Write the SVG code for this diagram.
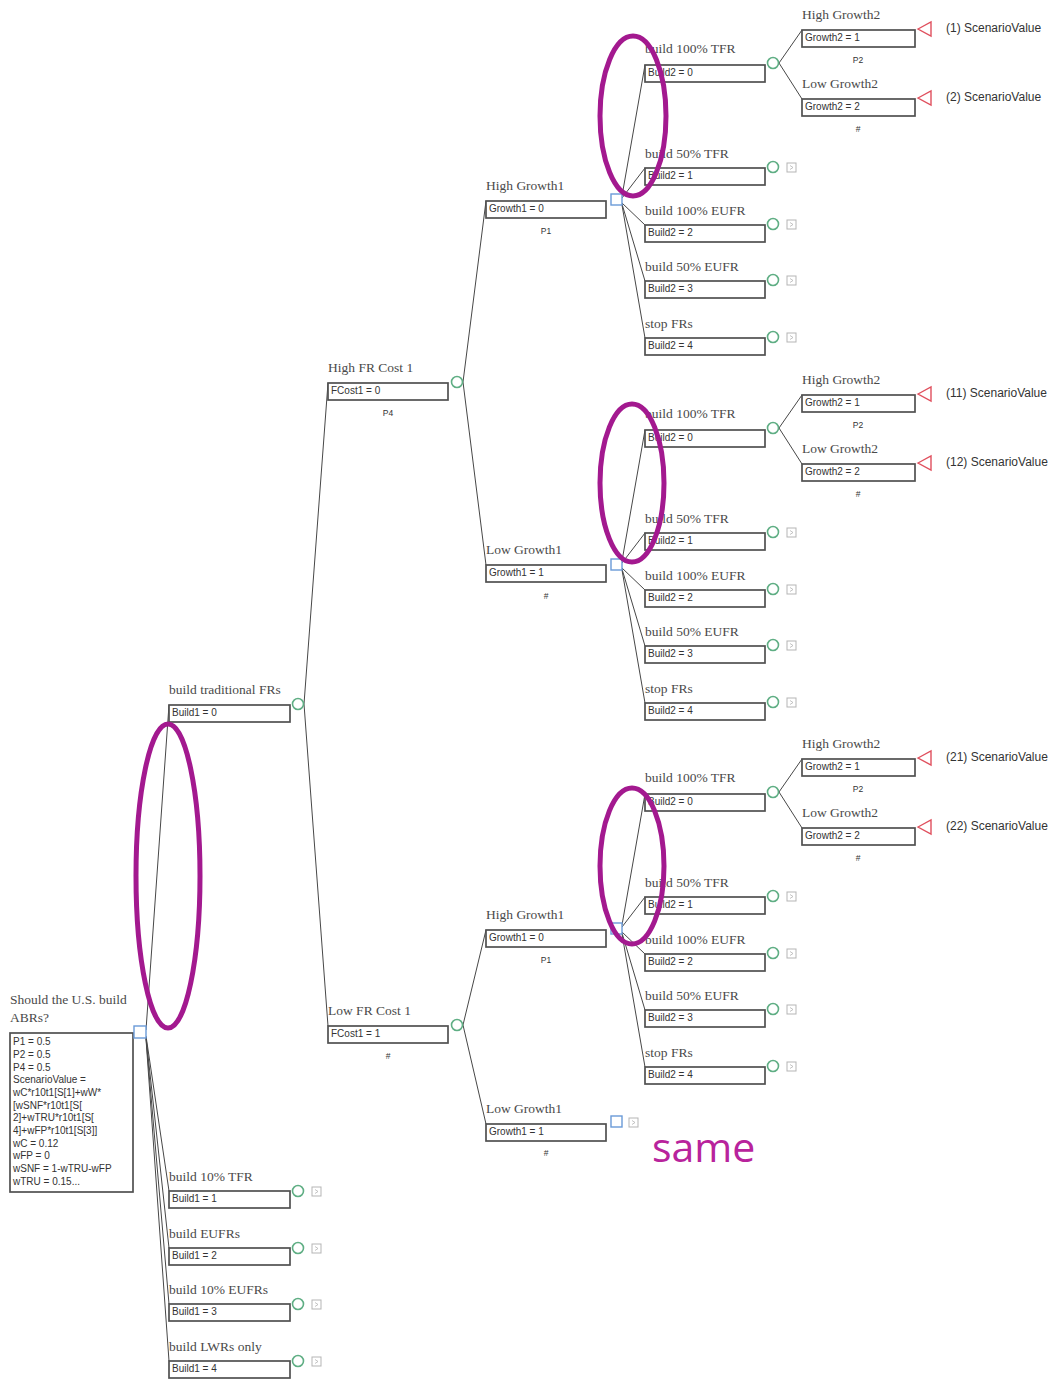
<svg xmlns="http://www.w3.org/2000/svg" width="1051" height="1380" viewBox="0 0 1051 1380">
  <style>
    .lbl { font-family: "Liberation Serif", serif; font-size: 13.5px; fill: #4a4a4a; }
    .val { font-family: "Liberation Sans", sans-serif; font-size: 10px; fill: #333; }
    .note { font-family: "Liberation Sans", sans-serif; font-size: 10px; fill: #333; }
    .prob { font-family: "Liberation Sans", sans-serif; font-size: 8.5px; fill: #333; text-anchor: middle; }
    .sv { font-family: "Liberation Sans", sans-serif; font-size: 12px; fill: #333; }
    .box { fill: #fff; stroke: #505050; stroke-width: 1.7; }
    .chance { fill: #fff; stroke: #5fae84; stroke-width: 1.6; }
    .dec { fill: #fff; stroke: #6a9ad8; stroke-width: 1.4; }
    .term { fill: #fff; stroke: #e0505e; stroke-width: 1.4; }
    .icon { fill: #fff; stroke: #b5b5b5; stroke-width: 1; }
    .icon-mark { fill: none; stroke: #b5b5b5; stroke-width: 0.8; }
    .edge { stroke: #474747; stroke-width: 1; fill: none; }
    .mark { fill: none; stroke: #a3198f; stroke-width: 5; }
    .same { font-family: "Open Sans", "Liberation Sans", sans-serif; font-size: 41px; fill: #b8239c; }
  </style>
  <defs>
    <!-- collapsed-subtree marker -->
    <g id="collapsed">
      <rect class="icon" x="0" y="0" width="9" height="9"/>
      <path class="icon-mark" d="M3 2.5 L6 4.5 L3 6.5"/>
    </g>
    <!-- terminal (payoff) node -->
    <polygon id="terminal" class="term" points="0,0 13,-7 13,7"/>
  </defs>

  <rect width="1051" height="1380" fill="#fff"/>

  <!-- branch lines -->
  <g id="connectors">
    <!-- root to first-stage choices -->
    <path class="edge" d="M146 1030 L169 705"/>
    <path class="edge" d="M146 1036 L169 1191"/>
    <path class="edge" d="M146 1037 L169 1248"/>
    <path class="edge" d="M146 1038 L169 1304"/>
    <path class="edge" d="M146 1039 L169 1361"/>
    <!-- fuel-cycle cost chance -->
    <path class="edge" d="M304 704 L328 383"/>
    <path class="edge" d="M304 704 L328 1026"/>
    <!-- first growth chance -->
    <path class="edge" d="M463 382 L486 201"/>
    <path class="edge" d="M463 382 L486 565"/>
    <path class="edge" d="M463 1025 L486 930"/>
    <path class="edge" d="M463 1025 L486 1124"/>
    <!-- second-stage decisions, group A -->
    <path class="edge" d="M622 196 L645 65"/>
    <path class="edge" d="M622 198 L645 168"/>
    <path class="edge" d="M622 203 L645 225"/>
    <path class="edge" d="M622 204 L645 281"/>
    <path class="edge" d="M622 205 L645 338"/>
    <!-- group B -->
    <path class="edge" d="M622 561 L645 430"/>
    <path class="edge" d="M622 563 L645 533"/>
    <path class="edge" d="M622 568 L645 590"/>
    <path class="edge" d="M622 569 L645 646"/>
    <path class="edge" d="M622 570 L645 703"/>
    <!-- group C -->
    <path class="edge" d="M622 925 L645 794"/>
    <path class="edge" d="M622 927 L645 897"/>
    <path class="edge" d="M622 932 L645 954"/>
    <path class="edge" d="M622 933 L645 1010"/>
    <path class="edge" d="M622 934 L645 1067"/>
    <!-- second growth chance -->
    <path class="edge" d="M779 63 L802 30"/>
    <path class="edge" d="M779 63 L802 99"/>
    <path class="edge" d="M779 428 L802 395"/>
    <path class="edge" d="M779 428 L802 464"/>
    <path class="edge" d="M779 792 L802 759"/>
    <path class="edge" d="M779 792 L802 828"/>
  </g>

  <!-- root decision -->
  <g id="root">
    <text class="lbl" x="10" y="1004">Should the U.S. build</text>
    <text class="lbl" x="10" y="1022">ABRs?</text>
    <rect class="box" x="10" y="1033" width="123" height="159"/>
    <text class="note" x="13" y="1045">P1 = 0.5</text>
    <text class="note" x="13" y="1058">P2 = 0.5</text>
    <text class="note" x="13" y="1071">P4 = 0.5</text>
    <text class="note" x="13" y="1083">ScenarioValue =</text>
    <text class="note" x="13" y="1096">wC*r10t1[S[1]+wW*</text>
    <text class="note" x="13" y="1109">[wSNF*r10t1[S[</text>
    <text class="note" x="13" y="1121">2]+wTRU*r10t1[S[</text>
    <text class="note" x="13" y="1134">4]+wFP*r10t1[S[3]]</text>
    <text class="note" x="13" y="1147">wC = 0.12</text>
    <text class="note" x="13" y="1159">wFP = 0</text>
    <text class="note" x="13" y="1172">wSNF = 1-wTRU-wFP</text>
    <text class="note" x="13" y="1185">wTRU = 0.15...</text>
    <rect class="dec" x="134" y="1026" width="12" height="12"/>
  </g>

  <!-- first-stage choices -->
  <g id="build-traditional">
    <text class="lbl" x="169" y="694">build traditional FRs</text>
    <rect class="box" x="169" y="705" width="121" height="17"/>
    <text class="val" x="172" y="716">Build1 = 0</text>
    <circle class="chance" cx="298" cy="704" r="5.5"/>
  </g>
  <g id="build-10-tfr">
    <text class="lbl" x="169" y="1181">build 10% TFR</text>
    <rect class="box" x="169" y="1191" width="121" height="17"/>
    <text class="val" x="172" y="1202">Build1 = 1</text>
    <circle class="chance" cx="298" cy="1191" r="5.5"/>
    <use href="#collapsed" x="312" y="1187"/>
  </g>
  <g id="build-eufrs">
    <text class="lbl" x="169" y="1238">build EUFRs</text>
    <rect class="box" x="169" y="1248" width="121" height="17"/>
    <text class="val" x="172" y="1259">Build1 = 2</text>
    <circle class="chance" cx="298" cy="1248" r="5.5"/>
    <use href="#collapsed" x="312" y="1244"/>
  </g>
  <g id="build-10-eufrs">
    <text class="lbl" x="169" y="1294">build 10% EUFRs</text>
    <rect class="box" x="169" y="1304" width="121" height="17"/>
    <text class="val" x="172" y="1315">Build1 = 3</text>
    <circle class="chance" cx="298" cy="1304" r="5.5"/>
    <use href="#collapsed" x="312" y="1300"/>
  </g>
  <g id="build-lwrs">
    <text class="lbl" x="169" y="1351">build LWRs only</text>
    <rect class="box" x="169" y="1361" width="121" height="17"/>
    <text class="val" x="172" y="1372">Build1 = 4</text>
    <circle class="chance" cx="298" cy="1361" r="5.5"/>
    <use href="#collapsed" x="312" y="1357"/>
  </g>

  <!-- fuel-cycle cost -->
  <g id="high-fr-cost">
    <text class="lbl" x="328" y="372">High FR Cost 1</text>
    <rect class="box" x="328" y="383" width="120" height="17"/>
    <text class="val" x="331" y="394">FCost1 = 0</text>
    <text class="prob" x="388" y="416">P4</text>
    <circle class="chance" cx="457" cy="382" r="5.5"/>
  </g>
  <g id="low-fr-cost">
    <text class="lbl" x="328" y="1015">Low FR Cost 1</text>
    <rect class="box" x="328" y="1026" width="120" height="17"/>
    <text class="val" x="331" y="1037">FCost1 = 1</text>
    <text class="prob" x="388" y="1059">#</text>
    <circle class="chance" cx="457" cy="1025" r="5.5"/>
  </g>

  <!-- first growth -->
  <g id="high-growth1-a">
    <text class="lbl" x="486" y="190">High Growth1</text>
    <rect class="box" x="486" y="201" width="120" height="17"/>
    <text class="val" x="489" y="212">Growth1 = 0</text>
    <text class="prob" x="546" y="234">P1</text>
    <rect class="dec" x="611" y="194" width="11" height="11"/>
  </g>
  <g id="low-growth1-a">
    <text class="lbl" x="486" y="554">Low Growth1</text>
    <rect class="box" x="486" y="565" width="120" height="17"/>
    <text class="val" x="489" y="576">Growth1 = 1</text>
    <text class="prob" x="546" y="599">#</text>
    <rect class="dec" x="611" y="559" width="11" height="11"/>
  </g>
  <g id="high-growth1-b">
    <text class="lbl" x="486" y="919">High Growth1</text>
    <rect class="box" x="486" y="930" width="120" height="17"/>
    <text class="val" x="489" y="941">Growth1 = 0</text>
    <text class="prob" x="546" y="963">P1</text>
    <rect class="dec" x="611" y="923" width="11" height="11"/>
  </g>
  <g id="low-growth1-b">
    <text class="lbl" x="486" y="1113">Low Growth1</text>
    <rect class="box" x="486" y="1124" width="120" height="17"/>
    <text class="val" x="489" y="1135">Growth1 = 1</text>
    <text class="prob" x="546" y="1156">#</text>
    <rect class="dec" x="611" y="1116" width="11" height="11"/>
    <use href="#collapsed" x="629" y="1118"/>
  </g>

  <!-- second-stage choices, group A -->
  <g id="a-build-100-tfr">
    <text class="lbl" x="645" y="53">build 100% TFR</text>
    <rect class="box" x="645" y="65" width="120" height="17"/>
    <text class="val" x="648" y="76">Build2 = 0</text>
    <circle class="chance" cx="773" cy="63" r="5.5"/>
  </g>
  <g id="a-build-50-tfr">
    <text class="lbl" x="645" y="158">build 50% TFR</text>
    <rect class="box" x="645" y="168" width="120" height="17"/>
    <text class="val" x="648" y="179">Build2 = 1</text>
    <circle class="chance" cx="773" cy="167" r="5.5"/>
    <use href="#collapsed" x="787" y="163"/>
  </g>
  <g id="a-build-100-eufr">
    <text class="lbl" x="645" y="215">build 100% EUFR</text>
    <rect class="box" x="645" y="225" width="120" height="17"/>
    <text class="val" x="648" y="236">Build2 = 2</text>
    <circle class="chance" cx="773" cy="224" r="5.5"/>
    <use href="#collapsed" x="787" y="220"/>
  </g>
  <g id="a-build-50-eufr">
    <text class="lbl" x="645" y="271">build 50% EUFR</text>
    <rect class="box" x="645" y="281" width="120" height="17"/>
    <text class="val" x="648" y="292">Build2 = 3</text>
    <circle class="chance" cx="773" cy="280" r="5.5"/>
    <use href="#collapsed" x="787" y="276"/>
  </g>
  <g id="a-stop-frs">
    <text class="lbl" x="645" y="328">stop FRs</text>
    <rect class="box" x="645" y="338" width="120" height="17"/>
    <text class="val" x="648" y="349">Build2 = 4</text>
    <circle class="chance" cx="773" cy="337" r="5.5"/>
    <use href="#collapsed" x="787" y="333"/>
  </g>

  <!-- second-stage choices, group B -->
  <g id="b-build-100-tfr">
    <text class="lbl" x="645" y="418">build 100% TFR</text>
    <rect class="box" x="645" y="430" width="120" height="17"/>
    <text class="val" x="648" y="441">Build2 = 0</text>
    <circle class="chance" cx="773" cy="428" r="5.5"/>
  </g>
  <g id="b-build-50-tfr">
    <text class="lbl" x="645" y="523">build 50% TFR</text>
    <rect class="box" x="645" y="533" width="120" height="17"/>
    <text class="val" x="648" y="544">Build2 = 1</text>
    <circle class="chance" cx="773" cy="532" r="5.5"/>
    <use href="#collapsed" x="787" y="528"/>
  </g>
  <g id="b-build-100-eufr">
    <text class="lbl" x="645" y="580">build 100% EUFR</text>
    <rect class="box" x="645" y="590" width="120" height="17"/>
    <text class="val" x="648" y="601">Build2 = 2</text>
    <circle class="chance" cx="773" cy="589" r="5.5"/>
    <use href="#collapsed" x="787" y="585"/>
  </g>
  <g id="b-build-50-eufr">
    <text class="lbl" x="645" y="636">build 50% EUFR</text>
    <rect class="box" x="645" y="646" width="120" height="17"/>
    <text class="val" x="648" y="657">Build2 = 3</text>
    <circle class="chance" cx="773" cy="645" r="5.5"/>
    <use href="#collapsed" x="787" y="641"/>
  </g>
  <g id="b-stop-frs">
    <text class="lbl" x="645" y="693">stop FRs</text>
    <rect class="box" x="645" y="703" width="120" height="17"/>
    <text class="val" x="648" y="714">Build2 = 4</text>
    <circle class="chance" cx="773" cy="702" r="5.5"/>
    <use href="#collapsed" x="787" y="698"/>
  </g>

  <!-- second-stage choices, group C -->
  <g id="c-build-100-tfr">
    <text class="lbl" x="645" y="782">build 100% TFR</text>
    <rect class="box" x="645" y="794" width="120" height="17"/>
    <text class="val" x="648" y="805">Build2 = 0</text>
    <circle class="chance" cx="773" cy="792" r="5.5"/>
  </g>
  <g id="c-build-50-tfr">
    <text class="lbl" x="645" y="887">build 50% TFR</text>
    <rect class="box" x="645" y="897" width="120" height="17"/>
    <text class="val" x="648" y="908">Build2 = 1</text>
    <circle class="chance" cx="773" cy="896" r="5.5"/>
    <use href="#collapsed" x="787" y="892"/>
  </g>
  <g id="c-build-100-eufr">
    <text class="lbl" x="645" y="944">build 100% EUFR</text>
    <rect class="box" x="645" y="954" width="120" height="17"/>
    <text class="val" x="648" y="965">Build2 = 2</text>
    <circle class="chance" cx="773" cy="953" r="5.5"/>
    <use href="#collapsed" x="787" y="949"/>
  </g>
  <g id="c-build-50-eufr">
    <text class="lbl" x="645" y="1000">build 50% EUFR</text>
    <rect class="box" x="645" y="1010" width="120" height="17"/>
    <text class="val" x="648" y="1021">Build2 = 3</text>
    <circle class="chance" cx="773" cy="1009" r="5.5"/>
    <use href="#collapsed" x="787" y="1005"/>
  </g>
  <g id="c-stop-frs">
    <text class="lbl" x="645" y="1057">stop FRs</text>
    <rect class="box" x="645" y="1067" width="120" height="17"/>
    <text class="val" x="648" y="1078">Build2 = 4</text>
    <circle class="chance" cx="773" cy="1066" r="5.5"/>
    <use href="#collapsed" x="787" y="1062"/>
  </g>

  <!-- second growth and payoffs -->
  <g id="a-high-growth2">
    <text class="lbl" x="802" y="19">High Growth2</text>
    <rect class="box" x="802" y="30" width="113" height="17"/>
    <text class="val" x="805" y="41">Growth2 = 1</text>
    <text class="prob" x="858" y="63">P2</text>
    <use href="#terminal" x="918" y="29"/>
    <text class="sv" x="946" y="32">(1) ScenarioValue</text>
  </g>
  <g id="a-low-growth2">
    <text class="lbl" x="802" y="88">Low Growth2</text>
    <rect class="box" x="802" y="99" width="113" height="17"/>
    <text class="val" x="805" y="110">Growth2 = 2</text>
    <text class="prob" x="858" y="132">#</text>
    <use href="#terminal" x="918" y="98"/>
    <text class="sv" x="946" y="101">(2) ScenarioValue</text>
  </g>
  <g id="b-high-growth2">
    <text class="lbl" x="802" y="384">High Growth2</text>
    <rect class="box" x="802" y="395" width="113" height="17"/>
    <text class="val" x="805" y="406">Growth2 = 1</text>
    <text class="prob" x="858" y="428">P2</text>
    <use href="#terminal" x="918" y="394"/>
    <text class="sv" x="946" y="397">(11) ScenarioValue</text>
  </g>
  <g id="b-low-growth2">
    <text class="lbl" x="802" y="453">Low Growth2</text>
    <rect class="box" x="802" y="464" width="113" height="17"/>
    <text class="val" x="805" y="475">Growth2 = 2</text>
    <text class="prob" x="858" y="497">#</text>
    <use href="#terminal" x="918" y="463"/>
    <text class="sv" x="946" y="466">(12) ScenarioValue</text>
  </g>
  <g id="c-high-growth2">
    <text class="lbl" x="802" y="748">High Growth2</text>
    <rect class="box" x="802" y="759" width="113" height="17"/>
    <text class="val" x="805" y="770">Growth2 = 1</text>
    <text class="prob" x="858" y="792">P2</text>
    <use href="#terminal" x="918" y="758"/>
    <text class="sv" x="946" y="761">(21) ScenarioValue</text>
  </g>
  <g id="c-low-growth2">
    <text class="lbl" x="802" y="817">Low Growth2</text>
    <rect class="box" x="802" y="828" width="113" height="17"/>
    <text class="val" x="805" y="839">Growth2 = 2</text>
    <text class="prob" x="858" y="861">#</text>
    <use href="#terminal" x="918" y="827"/>
    <text class="sv" x="946" y="830">(22) ScenarioValue</text>
  </g>

  <!-- hand-drawn highlights -->
  <g id="highlights">
    <ellipse class="mark" cx="633" cy="116" rx="33" ry="80"/>
    <ellipse class="mark" cx="632" cy="483" rx="32" ry="79"/>
    <ellipse class="mark" cx="632" cy="866" rx="32" ry="78"/>
    <ellipse class="mark" cx="168" cy="876" rx="32" ry="152"/>
    <text class="same" x="652" y="1162">same</text>
  </g>
</svg>
